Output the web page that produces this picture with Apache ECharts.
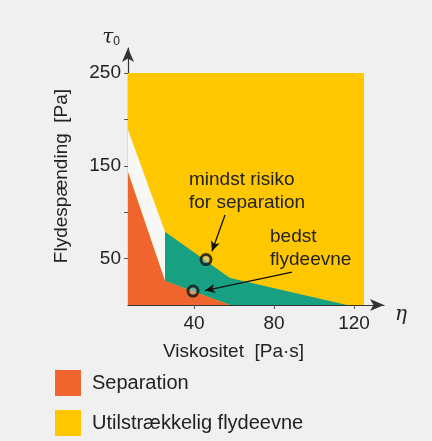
<!DOCTYPE html>
<html>
<head>
<meta charset="utf-8">
<script src="https://cdn.jsdelivr.net/npm/echarts@6/dist/echarts.min.js"></script>
<style>
  html, body { margin: 0; padding: 0; background: #f0f0f0; }
  #chart { width: 432px; height: 441px; }
</style>
</head>
<body>
<div id="chart"></div>
<script>
// regions of the diagram, as [viskositet, flydespænding] vertices
const insufficientFlow = [[7, 0], [125, 0], [125, 250], [7, 250]];
const gapRegion = [[7, 189], [25.5, 79], [25.5, 26], [7, 143]];
const bestRegion = [[25.5, 79], [58, 29], [116.5, 0], [58, 0], [25.5, 26]];
const separation = [[7, 143], [25.5, 26], [58, 0], [7, 0]];

const optimumPoints = [[46, 49], [39.5, 15]];
const arrowFrom = [[55.5, 97], [89, 35.5]];
const arrowTo = [[49, 58], [45.5, 15.5]];

const xTicks = [40, 80, 120];
const yLabels = [50, 150, 250];

const FONT = '"Liberation Sans", Arial, sans-serif';
const ORANGE = '#f0652e';
const YELLOW = '#fec700';
const GREEN = '#18a083';

function polygon(points, color, name) {
  return {
    type: 'custom',
    name,
    silent: true,
    itemStyle: { color },
    data: [0],
    renderItem: (params, api) => ({
      type: 'polygon',
      shape: { points: points.map((p) => api.coord(p)) },
      style: { fill: color }
    })
  };
}

const chart = echarts.init(document.getElementById('chart'));
chart.setOption({
  animation: false,
  backgroundColor: '#f0f0f0',
  textStyle: { fontFamily: FONT },
  grid: { left: 128, right: 48, top: 48, bottom: 136 },
  xAxis: {
    type: 'value',
    min: 7,
    max: 135,
    splitLine: { show: false },
    axisLine: { lineStyle: { color: '#333', width: 1.2 }, symbol: ['none', 'arrow'], symbolSize: [9, 14] },
    axisTick: { show: true, customValues: xTicks, length: 4, lineStyle: { color: '#555' } },
    axisLabel: { customValues: xTicks, fontSize: 19, color: '#222', margin: 9, fontFamily: FONT },
    name: 'η',
    nameLocation: 'end',
    nameGap: 11,
    nameTextStyle: { fontSize: 20, fontStyle: 'italic', color: '#222', fontFamily: 'DejaVu Serif', verticalAlign: 'top' }
  },
  yAxis: {
    type: 'value',
    min: 0,
    max: 277,
    splitLine: { show: false },
    axisLine: { lineStyle: { color: '#333', width: 1.2 }, symbol: ['none', 'arrow'], symbolSize: [9, 14] },
    axisTick: { show: true, customValues: [50, 100, 150, 200, 250], length: 4, lineStyle: { color: '#555' } },
    axisLabel: { customValues: yLabels, fontSize: 19, color: '#222', margin: 7, fontFamily: FONT },
    name: '{t|τ}{s|0}',
    nameLocation: 'end',
    nameGap: 0,
    nameTextStyle: {
      align: 'right',
      padding: [0, 8, 0, 0],
      rich: {
        t: { fontSize: 20, fontStyle: 'italic', color: '#222', fontFamily: 'DejaVu Serif' },
        s: { fontSize: 12, color: '#222', verticalAlign: 'bottom', padding: [8, 0, 0, 0], fontFamily: FONT }
      }
    }
  },
  legend: {
    orient: 'vertical',
    left: 50,
    top: 365,
    itemWidth: 26,
    itemHeight: 26,
    itemGap: 14,
    icon: 'rect',
    selectedMode: false,
    textStyle: { fontSize: 20, color: '#222', fontFamily: FONT, padding: [0, 0, 0, 6] },
    data: ['Separation', 'Utilstrækkelig flydeevne']
  },
  graphic: [
    {
      type: 'text',
      x: 62,
      y: 176,
      rotation: Math.PI / 2,
      style: { text: 'Flydespænding  [Pa]', font: '19px ' + FONT, fill: '#222', align: 'center', verticalAlign: 'middle' }
    },
    {
      type: 'text',
      left: 163,
      top: 342,
      style: { text: 'Viskositet  [Pa·s]', font: '19px ' + FONT, fill: '#222' }
    },
    {
      type: 'text',
      left: 189,
      top: 168,
      z: 20,
      style: { text: 'mindst risiko\nfor separation', font: '19px ' + FONT, fill: '#222', lineHeight: 23 }
    },
    {
      type: 'text',
      left: 270,
      top: 225,
      z: 20,
      style: { text: 'bedst\nflydeevne', font: '19px ' + FONT, fill: '#222', lineHeight: 23 }
    }
  ],
  series: [
    polygon(insufficientFlow, YELLOW, 'Utilstrækkelig flydeevne'),
    polygon(gapRegion, '#f7f7f5', 'gap'),
    polygon(bestRegion, GREEN, 'best'),
    polygon(separation, ORANGE, 'Separation'),
    {
      type: 'scatter',
      silent: true,
      z: 10,
      data: optimumPoints,
      symbol: 'circle',
      symbolSize: 10,
      itemStyle: { color: 'rgba(200,200,190,0.6)', borderColor: '#111', borderWidth: 3 },
      markLine: {
        silent: true,
        symbol: ['none', 'arrow'],
        symbolSize: [7, 10],
        label: { show: false },
        lineStyle: { color: '#111', width: 1.3, type: 'solid' },
        data: arrowFrom.map((p, i) => [{ coord: p }, { coord: arrowTo[i] }])
      }
    }
  ]
});
</script>
</body>
</html>
